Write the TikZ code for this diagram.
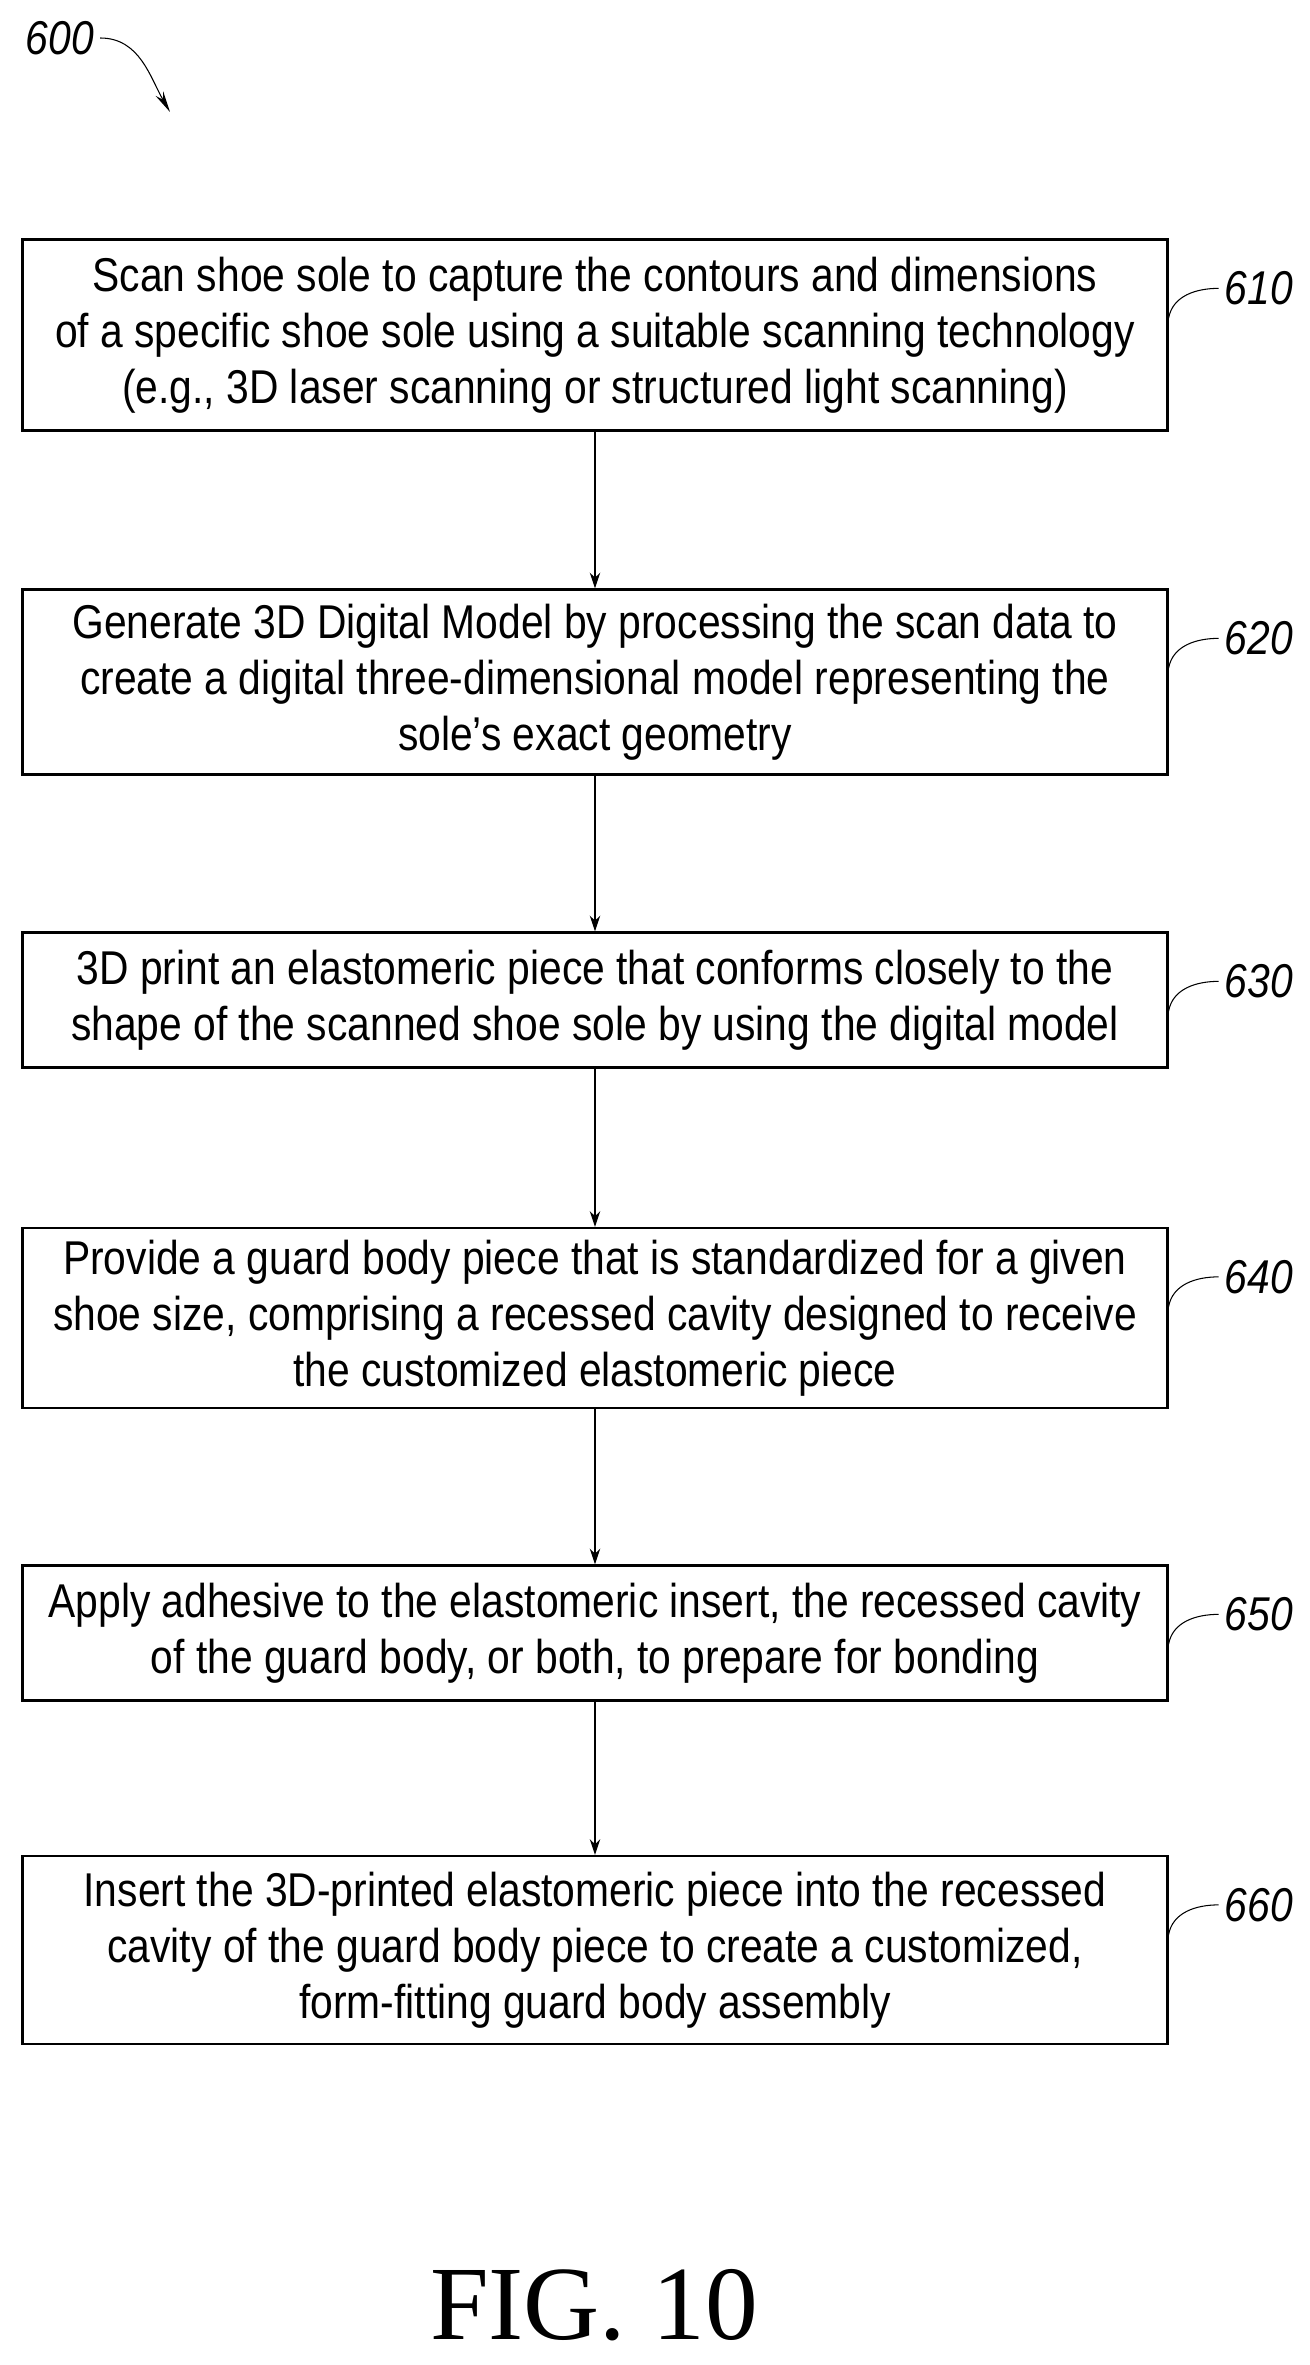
\documentclass[tikz,border=0pt]{standalone}
\usepackage{fontspec}
\setmainfont{Liberation Sans}[FakeStretch=0.86]
\newfontfamily\figfont{Liberation Serif}
\usetikzlibrary{arrows.meta}
\tikzset{
  stepbox/.style={draw, line width=1.3pt, minimum width=22.9cm, align=center,
    font=\fontsize{27}{32}\selectfont, inner sep=0pt},
  flow/.style={-{Stealth[length=9pt,width=6pt]}, line width=0.7pt},
  reflabel/.style={font=\fontsize{27}{27}\selectfont\itshape, anchor=west},
  squig/.style={line width=0.6pt}
}
\begin{document}
\begin{tikzpicture}[x=0.02cm,y=-0.02cm]
\useasboundingbox (0,0) rectangle (1309,2365);
% figure reference
\node[reflabel, anchor=center] (n600) at (60,38) {600};
\draw[squig, -{Stealth[length=12pt,width=5pt]}] (n600.east) to[out=0,in=120] (170,112);

% steps
\node[stepbox, minimum height=3.82cm] (s610) at (595,335)
  {Scan shoe sole to capture the contours and dimensions\\of a specific shoe sole using a suitable scanning technology\\(e.g., 3D laser scanning or structured light scanning)};
\node[stepbox, minimum height=3.7cm] (s620) at (595,682)
  {Generate 3D Digital Model by processing the scan data to\\create a digital three-dimensional model representing the\\sole's exact geometry};
\node[stepbox, minimum height=2.7cm] (s630) at (595,1000)
  {3D print an elastomeric piece that conforms closely to the\\shape of the scanned shoe sole by using the digital model};
\node[stepbox, minimum height=3.6cm] (s640) at (595,1318)
  {Provide a guard body piece that is standardized for a given\\shoe size, comprising a recessed cavity designed to receive\\the customized elastomeric piece};
\node[stepbox, minimum height=2.7cm] (s650) at (595,1633)
  {Apply adhesive to the elastomeric insert, the recessed cavity\\of the guard body, or both, to prepare for bonding};
\node[stepbox, minimum height=3.76cm] (s660) at (595,1950)
  {Insert the 3D-printed elastomeric piece into the recessed\\cavity of the guard body piece to create a customized,\\form-fitting guard body assembly};

% connectors
\foreach \a/\b in {s610/s620, s620/s630, s630/s640, s640/s650, s650/s660}
  \draw[flow] (\a.south) -- (\b.north);

% reference numerals
\foreach \s/\t in {s610/610, s620/620, s630/630, s640/640, s650/650, s660/660} {
  \node[reflabel] (l\t) at ([xshift=1.0cm,yshift=-1.0cm]\s.north east) {\t};
  \draw[squig] ([yshift=-1.6cm]\s.north east) to[out=80,in=180] (l\t.west);
}

\node[font=\figfont\fontsize{60}{60}\selectfont] (fig) at (594,2305) {FIG. 10};
\end{tikzpicture}
\end{document}
